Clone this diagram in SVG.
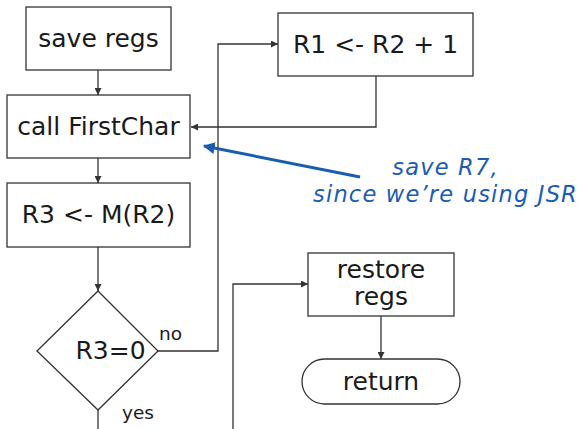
<svg xmlns="http://www.w3.org/2000/svg" width="582" height="429" viewBox="0 0 582 429">
<defs>
<marker id="ah" viewBox="0 0 10 10" refX="10" refY="5" markerWidth="7" markerHeight="7" markerUnits="userSpaceOnUse" orient="auto">
<path d="M0,0 L10,5 L0,10 z" fill="#333"/>
</marker>
<marker id="bh" viewBox="0 0 10 10" refX="9" refY="5" markerWidth="12" markerHeight="12" markerUnits="userSpaceOnUse" orient="auto">
<path d="M0,0 L10,5 L0,10 z" fill="#1a5cb0"/>
</marker>
<style>
.box{fill:#fff;stroke:#333;stroke-width:1.3}
.t{font-family:"DejaVu Sans",sans-serif;font-size:25px;fill:#1a1a1a;text-anchor:middle}
.s{font-family:"DejaVu Sans",sans-serif;font-size:18.5px;fill:#1a1a1a}
.c{fill:none;stroke:#333;stroke-width:1.3}
.note{font-family:"DejaVu Sans",sans-serif;font-style:italic;font-size:22.5px;letter-spacing:1.2px;fill:#1a5cb0;text-anchor:middle}
</style>
</defs>
<rect width="582" height="429" fill="#fff"/>
<g id="connectors">
<path class="c" d="M98,70 V95" marker-end="url(#ah)"/>
<path class="c" d="M98,158 V183" marker-end="url(#ah)"/>
<path class="c" d="M98,247 V291" marker-end="url(#ah)"/>
<path class="c" d="M158,351 H218 V44 H278" marker-end="url(#ah)"/>
<path class="c" d="M376,76 V127 H191" marker-end="url(#ah)"/>
<path class="c" d="M98,410 V429"/>
<path class="c" d="M233,429 V284 H308" marker-end="url(#ah)"/>
<path class="c" d="M381,316 V359" marker-end="url(#ah)"/>
<path d="M360,177 L204,146" fill="none" stroke="#1a5cb0" stroke-width="3" marker-end="url(#bh)"/>
<text class="s" x="159" y="340">no</text>
<text class="s" x="122" y="419">yes</text>
</g>
<g id="save-regs">
<rect class="box" x="26" y="7" width="145" height="63"/>
<text class="t" x="98.5" y="47">save regs</text>
</g>
<g id="call-firstchar">
<rect class="box" x="7" y="95" width="183" height="63"/>
<text class="t" x="98.5" y="135">call FirstChar</text>
</g>
<g id="r3-load">
<rect class="box" x="7" y="183" width="183" height="64"/>
<text class="t" x="98.5" y="223">R3 &lt;- M(R2)</text>
</g>
<g id="decision">
<polygon class="box" points="98,291 158,351 98,410 37,351"/>
<text class="t" x="110.5" y="359">R3=0</text>
</g>
<g id="r1-inc">
<rect class="box" x="278" y="13" width="195" height="63"/>
<text class="t" x="375.5" y="53">R1 &lt;- R2 + 1</text>
</g>
<g id="restore-regs">
<rect class="box" x="308" y="253" width="146" height="63"/>
<text class="t" x="381" y="278">restore</text>
<text class="t" x="381" y="305">regs</text>
</g>
<g id="return">
<rect class="box" x="302" y="359" width="158" height="45" rx="22.5"/>
<text class="t" x="381" y="390">return</text>
</g>
<g id="note">
<text class="note" x="445.5" y="175">save R7,</text>
<text class="note" x="445.5" y="201.5">since we’re using JSR</text>
</g>
</svg>
